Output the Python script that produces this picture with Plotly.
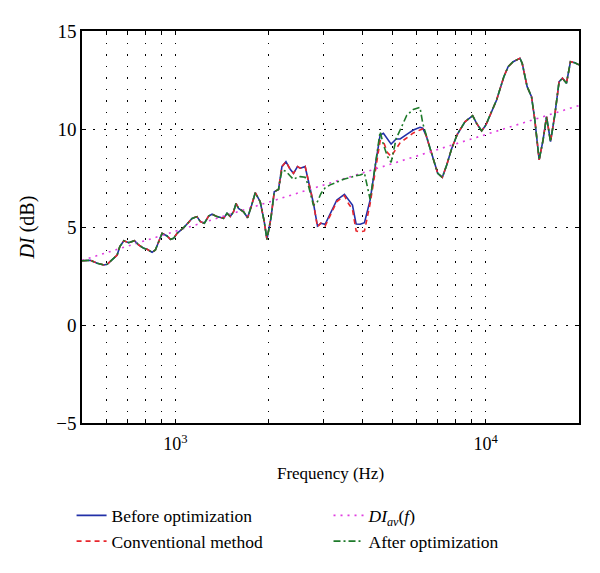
import plotly.graph_objects as go

# Frequencies (Hz)
freq = [500, 532, 560, 588, 603, 626, 649, 662, 682, 707, 738, 762, 791, 811, 841, 862, 884, 906, 940, 964,
        987, 1013, 1063, 1132, 1174, 1204, 1240, 1280, 1313, 1362, 1430, 1467, 1503, 1540, 1568, 1598, 1659,
        1709, 1756, 1809, 1877, 1934, 1973, 2032, 2083, 2150, 2205, 2272, 2345, 2403, 2475, 2525, 2620, 2685,
        2787, 2871, 2944, 3039, 3154, 3315, 3507, 3613, 3722, 3825, 3941, 4069, 4245, 4405, 4571, 4684, 4825,
        4959, 5147, 5302, 5571, 5848, 6145, 6270, 6425, 6669, 7008, 7251, 7492, 7775, 8105, 8578, 9082, 9355,
        9708, 10020, 10330, 10850, 11450, 11820, 12270, 12900, 13120, 13610, 14060, 14410, 14880, 15320, 15720,
        16190, 16710, 17250, 17690, 18220, 18770, 19390, 20000]

before_opt = [3.28, 3.3, 3.15, 3.06, 3.1, 3.32, 3.57, 4.0, 4.3, 4.2, 4.3, 4.08, 3.91, 3.86, 3.71, 3.83, 4.25, 4.68,
              4.54, 4.37, 4.42, 4.68, 4.96, 5.44, 5.53, 5.27, 5.19, 5.56, 5.65, 5.53, 5.44, 5.70, 5.53, 5.78, 6.2,
              5.95, 5.78, 5.47, 6.04, 6.75, 6.29, 5.27, 4.37, 5.44, 6.80, 6.92, 8.08, 8.33, 7.94, 7.74, 8.08, 8.0,
              8.08, 7.31, 6.2, 5.05, 5.19, 5.14, 5.70, 6.38, 6.67, 6.38, 6.12, 5.15, 5.14, 5.22, 6.38, 8.08, 9.69,
              9.78, 9.49, 9.23, 9.49, 9.49, 9.73, 9.95, 10.09, 10.04, 9.69, 8.84, 7.74, 7.53, 8.16, 9.01, 9.73,
              10.37, 10.68, 10.29, 9.90, 10.2, 10.71, 11.48, 12.67, 13.18, 13.43, 13.61, 13.35, 12.16, 11.65, 10.46,
              8.42, 9.44, 10.63, 9.35, 10.71, 12.41, 12.59, 12.33, 13.43, 13.38, 13.27]

conventional = [3.28, 3.3, 3.15, 3.06, 3.1, 3.32, 3.57, 4.0, 4.3, 4.2, 4.3, 4.08, 3.91, 3.86, 3.71, 3.83, 4.25, 4.68,
                4.54, 4.37, 4.42, 4.68, 4.96, 5.44, 5.53, 5.27, 5.19, 5.56, 5.65, 5.53, 5.44, 5.70, 5.53, 5.78, 6.2,
                5.95, 5.78, 5.47, 6.04, 6.75, 6.29, 5.27, 4.37, 5.44, 6.80, 6.92, 8.08, 8.33, 7.94, 7.74, 8.08, 8.0,
                8.1, 7.31, 6.2, 5.0, 5.2, 5.05, 5.55, 6.3, 6.6, 6.2, 5.9, 4.8, 4.75, 4.8, 6.2, 7.9, 9.4,
                9.35, 8.8, 8.6, 9.0, 9.3, 9.55, 9.8, 9.95, 10.0, 9.69, 8.84, 7.74, 7.53, 8.16, 9.01, 9.73,
                10.37, 10.68, 10.29, 9.90, 10.2, 10.71, 11.48, 12.67, 13.18, 13.43, 13.61, 13.35, 12.16, 11.65, 10.46,
                8.42, 9.44, 10.63, 9.35, 10.71, 12.41, 12.59, 12.33, 13.43, 13.38, 13.27]

after_opt = [3.28, 3.3, 3.15, 3.06, 3.1, 3.32, 3.57, 4.0, 4.3, 4.2, 4.3, 4.08, 3.91, 3.86, 3.71, 3.83, 4.25, 4.68,
             4.54, 4.37, 4.42, 4.68, 4.96, 5.44, 5.53, 5.27, 5.19, 5.56, 5.65, 5.53, 5.44, 5.70, 5.53, 5.78, 6.2,
             5.95, 5.78, 5.47, 6.04, 6.75, 6.29, 5.27, 4.37, 5.44, 6.80, 6.92, 7.9, 7.85, 7.6, 7.43, 7.55, 7.57,
             7.54, 7.1, 6.1, 6.3, 6.7, 7.0, 7.15, 7.3, 7.45, 7.5, 7.58, 7.62, 7.65, 7.74, 6.4, 8.08, 9.86,
             9.2, 8.6, 8.3, 9.5, 9.95, 10.7, 11.0, 11.1, 10.3, 9.69, 8.84, 7.74, 7.53, 8.16, 9.01, 9.73,
             10.37, 10.68, 10.29, 9.90, 10.2, 10.71, 11.48, 12.67, 13.18, 13.43, 13.61, 13.35, 12.16, 11.65, 10.46,
             8.42, 9.44, 10.63, 9.35, 10.71, 12.41, 12.59, 12.33, 13.43, 13.38, 13.27]

avg_freq = [500, 1000, 2000, 5000, 10000, 20000]
di_av = [3.3, 4.78, 6.27, 8.23, 9.72, 11.2]

major_x = [1000, 10000]
major_x_text = ["10<sup>3</sup>", "10<sup>4</sup>"]
minor_x = [600, 700, 800, 900, 2000, 3000, 4000, 5000, 6000, 7000, 8000, 9000]
y_ticks = [-5, 0, 5, 10, 15]

FONT = "Liberation Serif, Times New Roman, DejaVu Serif, serif"

fig = go.Figure()
fig.add_trace(go.Scatter(x=freq, y=before_opt, mode="lines", name="Before optimization",
                         line=dict(color="#2230a8", width=1.6), legend="legend", legendrank=1))
fig.add_trace(go.Scatter(x=freq, y=conventional, mode="lines", name="Conventional method",
                         line=dict(color="#e8262c", width=1.6, dash="5px,4px"), legend="legend", legendrank=2))
fig.add_trace(go.Scatter(x=avg_freq, y=di_av, mode="lines", name="<i>DI<sub>av</sub></i>(<i>f</i>)",
                         line=dict(color="#e03ce0", width=1.6, dash="2px,5px"), legend="legend2", legendrank=1))
fig.add_trace(go.Scatter(x=freq, y=after_opt, mode="lines", name="After optimization",
                         line=dict(color="#1e7a2a", width=1.6, dash="7px,3px,2px,3px"), legend="legend2", legendrank=2))

fig.update_layout(
    width=600, height=573,
    margin=dict(l=74, r=29, t=23, b=158),
    paper_bgcolor="white", plot_bgcolor="white",
    font=dict(family=FONT, size=17, color="black"),
    showlegend=True,
    legend=dict(x=-0.021, xanchor="left", y=-0.19, yanchor="top", orientation="v",
                font=dict(family=FONT, size=17.5), bgcolor="rgba(0,0,0,0)", tracegroupgap=0, itemwidth=30),
    legend2=dict(x=0.496, xanchor="left", y=-0.19, yanchor="top", orientation="v",
                 font=dict(family=FONT, size=17.5), bgcolor="rgba(0,0,0,0)", tracegroupgap=0, itemwidth=30),
)

fig.update_xaxes(
    type="log", range=[2.69897, 4.30103],
    tickmode="array", tickvals=major_x, ticktext=major_x_text,
    ticks="inside", ticklen=4, tickcolor="black", tickwidth=1,
    showline=True, linecolor="black", linewidth=1.5, mirror="ticks",
    showgrid=True, gridcolor="black", gridwidth=1, griddash="1.5px,10px",
    minor=dict(tickmode="array", tickvals=minor_x, ticks="inside", ticklen=4, tickcolor="black",
               tickwidth=1, showgrid=True, gridcolor="black", gridwidth=1, griddash="1.5px,10px"),
    zeroline=False, ticklabelstandoff=4,
    tickfont=dict(family=FONT, size=18),
    title=dict(text="Frequency (Hz)", font=dict(family=FONT, size=17), standoff=14),
)
fig.update_yaxes(
    range=[-5, 15], tickmode="array", tickvals=y_ticks,
    ticks="inside", ticklen=4, tickcolor="black", tickwidth=1,
    showline=True, linecolor="black", linewidth=1.5, mirror="ticks",
    showgrid=True, gridcolor="black", gridwidth=1, griddash="1.5px,9.5px",
    zeroline=False,
    tickfont=dict(family=FONT, size=19),
    title=dict(text="<i>DI</i> (dB)", font=dict(family=FONT, size=20), standoff=16),
)

fig.write_html("out.html")
